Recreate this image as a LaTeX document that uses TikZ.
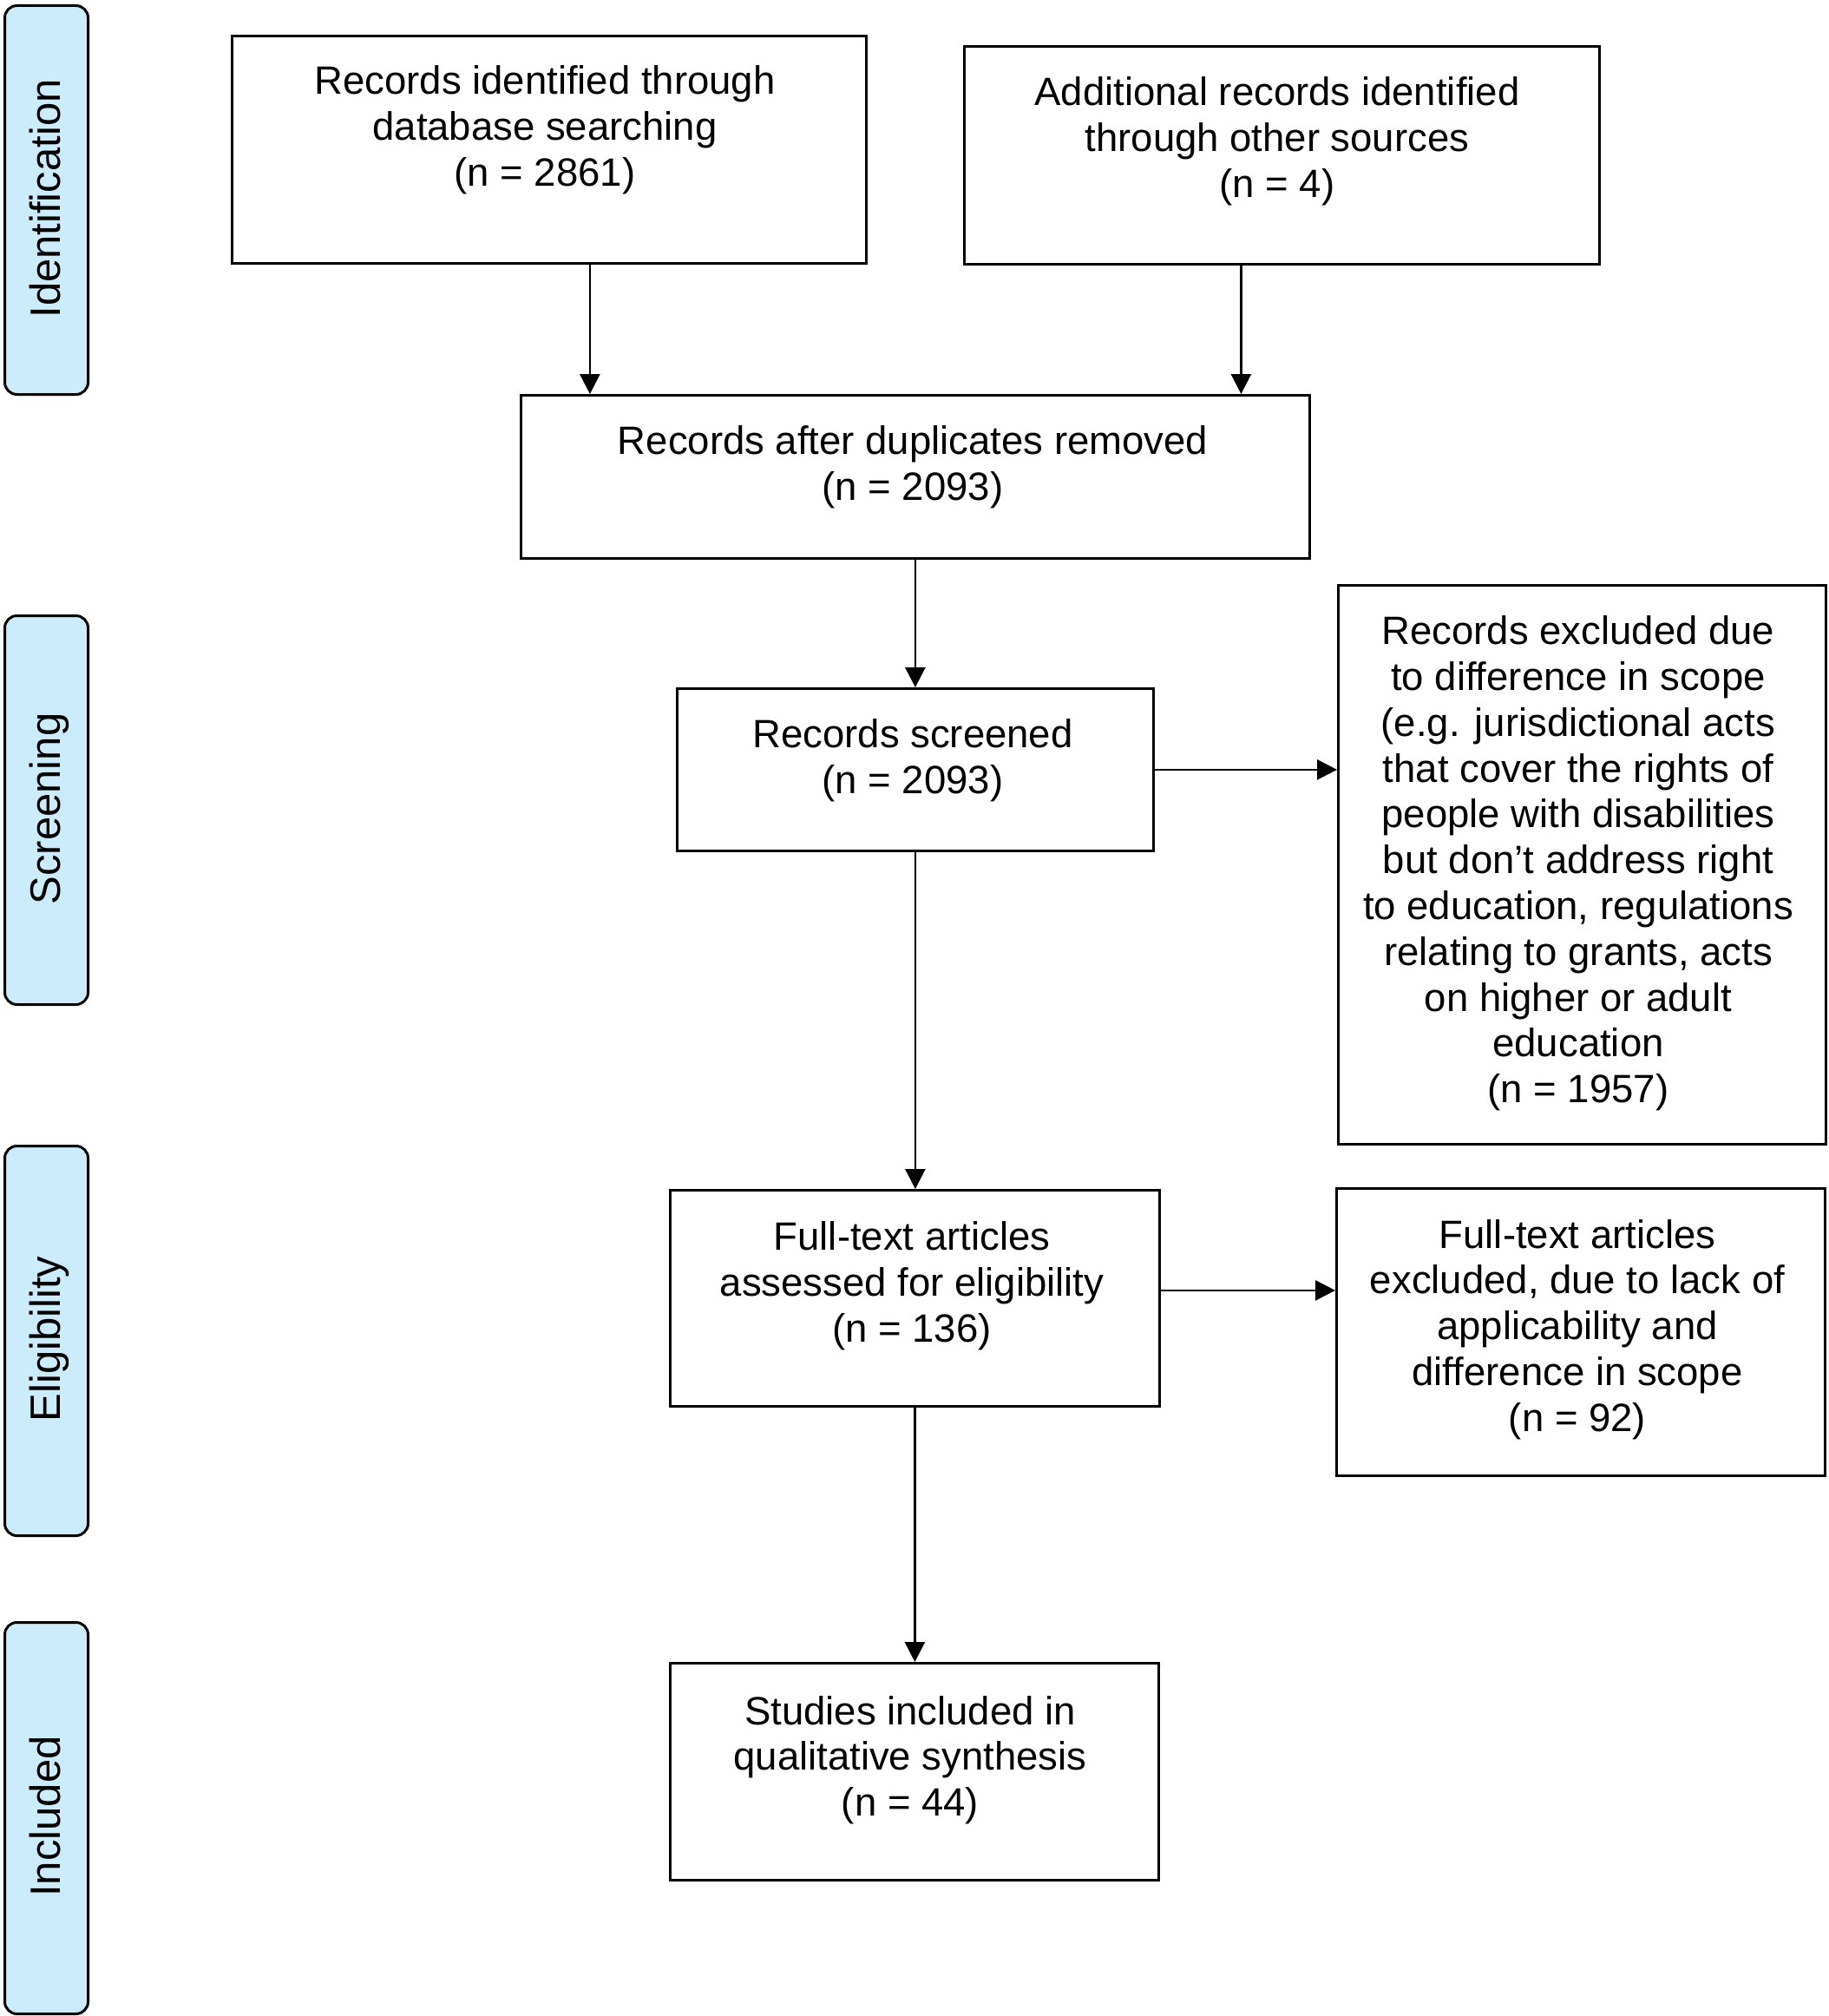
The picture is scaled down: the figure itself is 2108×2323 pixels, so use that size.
\documentclass[tikz,border=0pt]{standalone}
\usepackage{fontspec}
\setmainfont{Liberation Sans}
\usetikzlibrary{arrows.meta}
\definecolor{sidefill}{RGB}{204,236,252}
\tikzset{
  box/.style={draw=black, line width=2.8pt, fill=white, inner sep=0pt, anchor=north west},
  boxtext/.style={align=center, inner sep=0pt, font=\fontsize{45.5}{52.8}\selectfont},
  side/.style={draw=black, line width=3pt, fill=sidefill, rounded corners=14pt, inner sep=0pt, anchor=north west},
  sidetext/.style={inner sep=0pt, rotate=90, anchor=base, font=\fontsize{49}{56}\selectfont},
  arr/.style={line width=2.7pt, -{Triangle[length=23pt,width=23pt]}}
}
\begin{document}
\begin{tikzpicture}[x=1pt, y=-1pt]
\useasboundingbox (0,0) rectangle (2108,2323);
% side bars
\node[side, minimum width=96pt, minimum height=448pt] (s1) at (4,5) {};
\node[side, minimum width=96pt, minimum height=448pt] (s2) at (4,708) {};
\node[side, minimum width=96pt, minimum height=449pt] (s3) at (4,1319) {};
\node[side, minimum width=96pt, minimum height=451pt] (s4) at (4,1868) {};
\node[sidetext] (l1) at (69,229) {Identification};
\node[sidetext] (l2) at (69,932) {Screening};
\node[sidetext] (l3) at (69,1543) {Eligibility};
\node[sidetext] (l4) at (69,2093) {Included};
% boxes
\node[box, minimum width=731pt, minimum height=262pt] (A) at (266,40) {};
\node[box, minimum width=732pt, minimum height=251pt] (B) at (1110,52) {};
\node[box, minimum width=909pt, minimum height=188pt] (C) at (599,454) {};
\node[box, minimum width=549pt, minimum height=187pt] (D) at (779,792) {};
\node[box, minimum width=562pt, minimum height=644pt] (E) at (1541,673) {};
\node[box, minimum width=564pt, minimum height=249pt] (F) at (771,1370) {};
\node[box, minimum width=563pt, minimum height=331pt] (G) at (1539,1368) {};
\node[box, minimum width=563pt, minimum height=250pt] (H) at (771,1915) {};
% texts
\node[boxtext] (tA) at (628,150) {Records identified through\\database searching\\(n = 2861)};
\node[boxtext] (tB) at (1472,163) {Additional records identified\\through other sources\\(n = 4)};
\node[boxtext] (tC) at (1052,538) {Records after duplicates removed\\(n = 2093)};
\node[boxtext] (tD) at (1052,876) {Records screened\\(n = 2093)};
\node[boxtext] (tE) at (1819,995) {Records excluded due\\to difference in scope\\(e.g. jurisdictional acts\\that cover the rights of\\people with disabilities\\but don’t address right\\to education, regulations\\relating to grants, acts\\on higher or adult\\education\\(n = 1957)};
\node[boxtext] (tF) at (1051,1482) {Full-text articles\\assessed for eligibility\\(n = 136)};
\node[boxtext] (tG) at (1818,1532) {Full-text articles\\excluded, due to lack of\\applicability and\\difference in scope\\(n = 92)};
\node[boxtext] (tH) at (1049,2028) {Studies included in\\qualitative synthesis\\(n = 44)};
% arrows
\draw[arr] ([xshift=47pt]A.south) -- ([xshift=47pt]A.south |- C.north);
\draw[arr] ([xshift=-47pt]B.south) -- ([xshift=-47pt]B.south |- C.north);
\draw[arr] (C.south) -- (C.south |- D.north);
\draw[arr] (D.east) -- (D.east -| E.west);
\draw[arr] (D.south) -- (D.south |- F.north);
\draw[arr] ([yshift=9pt]F.east) -- ([yshift=9pt]F.east -| G.west);
\draw[arr] (F.south) -- (F.south |- H.north);
\end{tikzpicture}
\end{document}
